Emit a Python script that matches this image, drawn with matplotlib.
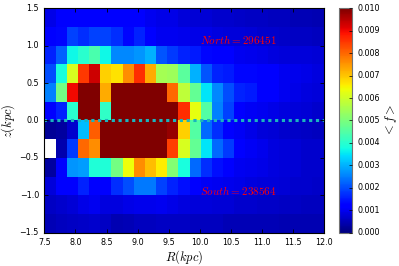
import numpy as np
import matplotlib
matplotlib.use("Agg")
import matplotlib.pyplot as plt

plt.style.use("classic")
plt.rcParams["mathtext.fontset"] = "cm"
plt.rcParams["font.family"] = ["DejaVu Sans"]

# bin edges
r_edges = np.linspace(7.5, 12.0, 26)
z_edges = np.linspace(-1.5, 1.5, 13)

# <f> values in units of 1e-3, rows listed from top (z=1.25..1.5) to bottom
row_z_p125 = [0.9, 1.2, 1.2, 1.2, 1.2, 1.15, 1.1, 1.1, 1.1, 1.0, 0.9, 0.9, 0.8, 0.75, 0.75, 0.7, 0.7, 0.65, 0.6, 0.6, 0.55, 0.55, 0.5, 0.5, 0.45]
row_z_p100 = [1.1, 1.3, 1.9, 1.7, 1.9, 1.9, 1.7, 1.3, 1.6, 1.1, 1.0, 1.0, 0.95, 0.9, 0.9, 0.85, 0.8, 0.8, 0.75, 0.7, 0.7, 0.65, 0.6, 0.6, 0.55]
row_z_p075 = [1.6, 2.2, 3.7, 4.0, 4.4, 3.7, 2.6, 2.6, 2.7, 3.0, 2.1, 1.8, 1.6, 1.5, 1.3, 1.2, 1.1, 1.0, 0.95, 0.9, 0.85, 0.8, 0.8, 0.8, 0.75]
row_z_p050 = [2.0, 3.8, 6.1, 8.5, 9.3, 6.9, 6.7, 7.6, 8.6, 7.3, 5.5, 5.4, 4.6, 3.0, 2.1, 1.6, 1.5, 1.3, 1.3, 1.2, 1.1, 1.0, 0.95, 0.9, 0.85]
row_z_p025 = [2.5, 4.9, 9.0, 12, 12, 7.3, 12, 12, 12, 12, 12, 8.0, 5.8, 4.7, 3.5, 2.6, 2.0, 1.6, 1.5, 1.2, 1.1, 1.0, 0.9, 0.85, 0.8]
row_z_p000 = [1.1, 1.6, 4.0, 12, 12, 4.1, 12, 12, 12, 12, 12, 12, 8.6, 6.3, 4.5, 2.5, 1.9, 1.2, 1.05, 1.0, 0.9, 0.85, 0.8, 0.75, 0.7]
row_z_m025 = [0.2, 0.3, 0.7, 3.1, 8.1, 12, 12, 12, 12, 12, 12, 9.8, 6.9, 4.5, 2.3, 1.7, 1.2, 1.05, 0.9, 0.8, 0.75, 0.7, 0.65, 0.6, 0.55]
row_z_m050 = [np.nan, 0.4, 1.8, 8.0, 7.6, 12, 12, 12, 12, 12, 12, 8.4, 6.1, 4.7, 3.5, 2.3, 1.8, 1.2, 1.05, 0.95, 0.85, 0.8, 0.75, 0.7, 0.7]
row_z_m075 = [0.3, 1.1, 2.7, 2.8, 3.9, 3.9, 4.9, 6.4, 7.6, 7.1, 6.6, 5.1, 3.8, 2.3, 1.7, 1.4, 1.1, 1.0, 0.95, 0.9, 0.85, 0.8, 0.75, 0.7, 0.7]
row_z_m100 = [0.8, 1.1, 1.2, 1.6, 1.15, 1.2, 1.7, 2.0, 2.45, 2.45, 1.9, 1.6, 1.4, 1.2, 1.05, 1.0, 0.95, 0.9, 0.85, 0.8, 0.8, 0.75, 0.7, 0.7, 0.65]
row_z_m125 = [0.6, 0.7, 0.75, 0.9, 1.0, 0.85, 0.85, 0.9, 0.95, 0.95, 1.0, 0.9, 0.85, 0.8, 0.8, 0.75, 0.75, 0.7, 0.7, 0.65, 0.65, 0.6, 0.6, 0.55, 0.55]
row_z_m150 = [0.5, 0.55, 0.6, 0.65, 0.7, 0.6, 0.45, 0.5, 0.55, 0.55, 0.6, 0.6, 0.6, 0.55, 0.55, 0.55, 0.5, 0.5, 0.5, 0.5, 0.5, 0.45, 0.45, 0.45, 0.45]

rows_top_to_bottom = [row_z_p125, row_z_p100, row_z_p075, row_z_p050, row_z_p025, row_z_p000,
                      row_z_m025, row_z_m050, row_z_m075, row_z_m100, row_z_m125, row_z_m150]
F = np.array(rows_top_to_bottom[::-1], dtype=float) * 1e-3
F = np.ma.masked_invalid(F)

north_label = r"$North=296451$"
south_label = r"$South=238564$"

fig = plt.figure(figsize=(3.99, 2.66), dpi=100, facecolor="white")
ax = fig.add_axes([0.1115, 0.1256, 0.6995, 0.8432])
cax = fig.add_axes([0.850, 0.1256, 0.032, 0.8432])

cmap = plt.get_cmap("jet").copy()
cmap.set_bad("white")
mesh = ax.pcolormesh(r_edges, z_edges, F, cmap=cmap, vmin=0.0, vmax=0.01)
ax.axhline(0.0, color="#1ab4bf", linestyle=(0.6, (2.3, 2.6)), linewidth=2.2)

ax.text(10.0, 1.0, north_label, color="red", fontsize=8, va="bottom", ha="left")
ax.text(10.0, -1.02, south_label, color="red", fontsize=8, va="bottom", ha="left")

ax.set_xlim(7.5, 12.0)
ax.set_ylim(-1.5, 1.5)
ax.set_xticks(np.arange(7.5, 12.01, 0.5))
ax.set_yticks(np.arange(-1.5, 1.51, 0.5))
ax.tick_params(labelsize=5.8, length=3, width=0.6)
ax.set_xlabel(r"$R(kpc)$", fontsize=9, labelpad=1)
ax.set_ylabel(r"$z(kpc)$", fontsize=9, labelpad=2)
for s in ax.spines.values():
    s.set_linewidth(0.8)

cb = fig.colorbar(mesh, cax=cax, ticks=np.arange(0, 0.01001, 0.001))
cb.ax.tick_params(labelsize=5.8, length=2, width=0.5)
cb.ax.set_yticklabels(["%.3f" % t for t in np.arange(0, 0.01001, 0.001)])
cb.set_label(r"$<f>$", fontsize=9, labelpad=2)
cb.outline.set_edgecolor("0.45")
cb.outline.set_linewidth(0.8)

fig.savefig("out.png", dpi=100, facecolor="white")
